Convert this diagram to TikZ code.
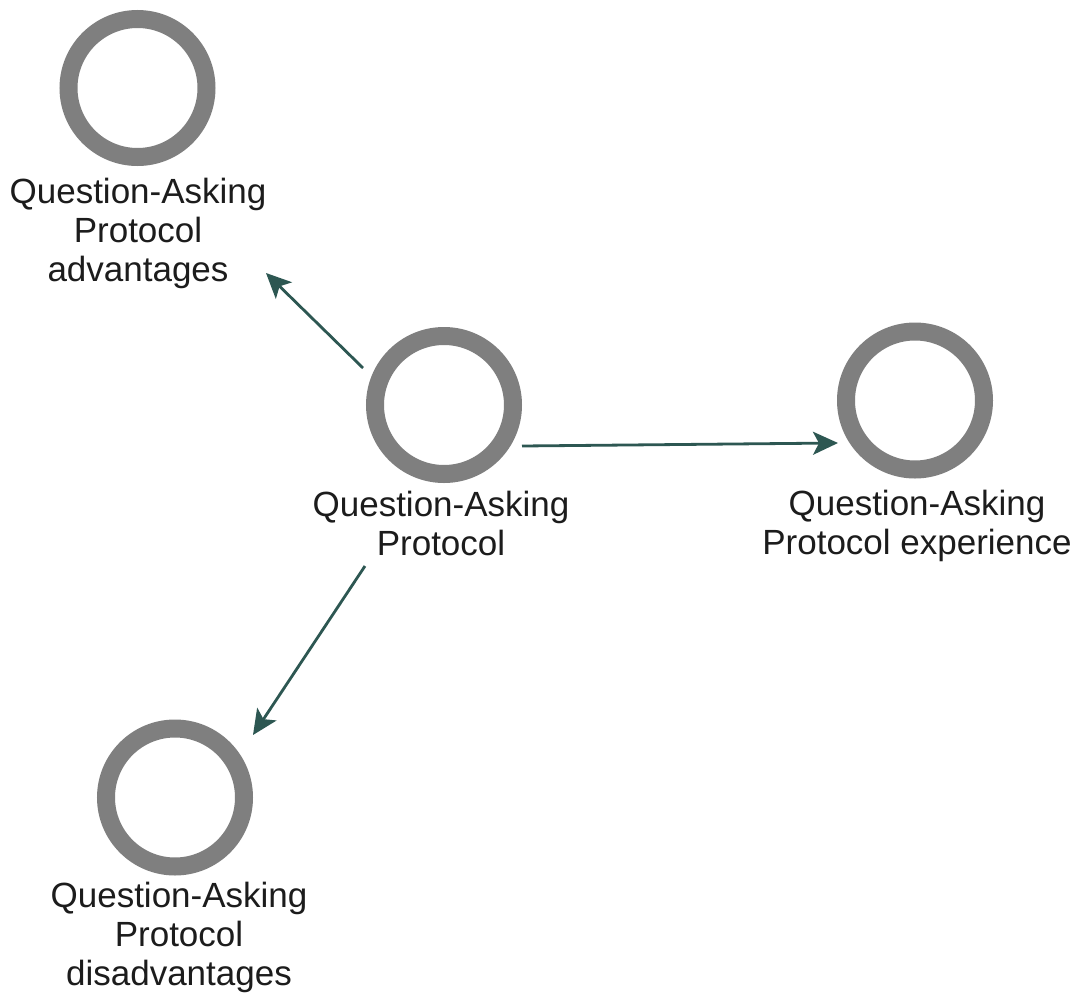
\documentclass[tikz,border=0pt]{standalone}
\usepackage{fontspec}
\setmainfont{Liberation Sans}
\usetikzlibrary{arrows.meta}
\definecolor{ringgray}{HTML}{7F7F7F}
\definecolor{linkteal}{HTML}{2D5752}
\definecolor{labelink}{HTML}{1C1C1C}
\tikzset{
  topic/.style={circle, draw=ringgray, line width=9pt, minimum size=69pt, inner sep=0pt, fill=white},
  topiclabel/.style={anchor=north, align=center, inner sep=0pt, text=labelink,
    font=\fontsize{17.5}{19.5}\selectfont},
  link/.style={draw=linkteal, line width=1.4pt,
    -{Stealth[length=12.5pt,width=11.5pt,inset=3pt]}},
}
\begin{document}
\begin{tikzpicture}[x=0.5pt,y=-0.5pt]
% canvas
\fill[white] (0,0) rectangle (1078,996);
\useasboundingbox (0,0) rectangle (1078,996);

% topic rings
\node[topic] (tl) at (137.5,88) {};
\node[topic] (c)  at (444,405) {};
\node[topic] (r)  at (915,400.5) {};
\node[topic] (bl) at (175,797.5) {};

% captions under the rings
\node[topiclabel] (tlL) at ([shift={(0.5,90)}]tl.center) {Question-Asking\\Protocol\\advantages};
\node[topiclabel] (cL)  at ([shift={(-3,86)}]c.center) {Question-Asking\\Protocol};
\node[topiclabel] (rL)  at ([shift={(2,89.5)}]r.center) {Question-Asking\\Protocol experience};
\node[topiclabel] (blL) at ([shift={(4,84)}]bl.center) {Question-Asking\\Protocol\\disadvantages};

% links from the central topic
\draw[link] ([shift={(-81,-37)}]c.center) -- ([shift={(128.5,185)}]tl.center);
\draw[link] ([shift={(78,41)}]c.center) -- ([shift={(-77,42.5)}]r.center);
\draw[link] ([shift={(-79,161)}]c.center) -- ([shift={(78,-62.5)}]bl.center);
\end{tikzpicture}
\end{document}
